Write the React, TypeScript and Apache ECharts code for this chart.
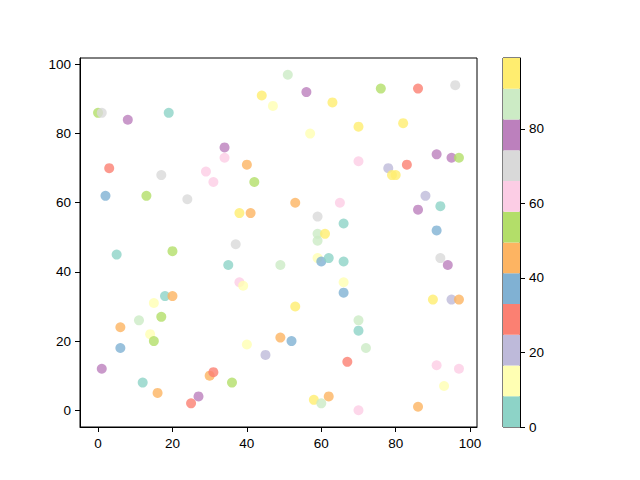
import { useEffect, useRef } from "react";
import * as echarts from "echarts";

// point positions (x, y) and the value used for colour
const xs = [
  0, 1, 8, 19, 44, 47, 51, 56, 63, 76, 86, 96, 57, 70, 82, 3, 34, 34, 40, 29, 31, 17, 42, 70, 78, 79, 80, 83, 91, 95, 97,
  2, 13, 24, 38, 41, 5, 20, 37, 35, 49, 38, 39, 18, 20, 15,
  53, 65, 59, 66, 59, 61, 59, 59, 60, 62, 66, 66, 66, 53, 88, 86, 92, 91, 92, 94, 90, 95, 97,
  11, 17, 6, 14, 15, 6, 1, 12, 16, 25, 27, 30, 31, 36, 40, 45, 49,
  52, 70, 70, 72, 67, 58, 60, 62, 70, 86, 91, 97, 93
];
const ys = [
  86, 86, 84, 86, 91, 88, 97, 92, 89, 93, 93, 94, 80, 82, 83, 70, 76, 73, 71, 69, 66, 68, 66, 72, 70, 68, 68, 71, 74, 73, 73,
  62, 62, 61, 57, 57, 45, 46, 48, 42, 42, 37, 36, 33, 33, 31,
  60, 60, 56, 54, 51, 51, 49, 44, 43, 44, 43, 37, 34, 30, 62, 58, 59, 52, 44, 42, 32, 32, 32,
  26, 27, 24, 22, 20, 18, 12, 8, 5, 2, 4, 10, 11, 8, 19, 16, 21,
  20, 26, 23, 18, 14, 3, 2, 4, 0, 1, 13, 12, 7
];
const cs = [
  53, 70, 78, 4, 95, 12, 86, 79, 96, 55, 29, 71, 13, 93, 97, 30, 80, 61, 44, 63, 60, 72, 52, 64, 21, 94, 98, 27, 77, 81, 54,
  38, 51, 69, 92, 46, 3, 54, 73, 6, 88, 64, 14, 2, 43, 11,
  47, 60, 72, 5, 85, 91, 87, 10, 36, 1, 7, 15, 39, 96, 19, 79, 2, 35, 68, 76, 93, 22, 42,
  84, 56, 45, 9, 52, 34, 80, 0, 44, 27, 77, 48, 31, 55, 16, 23, 44,
  37, 89, 5, 84, 28, 99, 86, 46, 63, 43, 65, 59, 13
];

const axisTicks = [0, 20, 40, 60, 80, 100];
const cbarTicks = [0, 20, 40, 60, 80];
const cMin = 0;
const cMax = 99;

// matplotlib Set3
const palette = [
  "#8dd3c7", "#ffffb3", "#bebada", "#fb8072", "#80b1d3", "#fdb462",
  "#b3de69", "#fccde5", "#d9d9d9", "#bc80bd", "#ccebc5", "#ffed6f"
];

const FONT = "Liberation Sans";
const pad = (lo: number, hi: number) => (hi - lo) * 0.05;

export default function App() {
  const hostRef = useRef<HTMLDivElement>(null);

  useEffect(() => {
    const host = hostRef.current;
    if (host === null) return;
    const chart = echarts.init(host, undefined, { renderer: "svg" });

    const xMin = Math.min(...xs), xMax = Math.max(...xs);
    const yMin = Math.min(...ys), yMax = Math.max(...ys);
    const step = (cMax - cMin) / palette.length;

    const valueAxis = (gridIndex: number, min: number, max: number, ticks: number[]) => ({
      type: "value" as const,
      gridIndex,
      min,
      max,
      axisLine: { show: true, onZero: false, lineStyle: { color: "#000", width: 1 } },
      axisTick: { show: true, inside: false, length: 5, customValues: ticks, lineStyle: { color: "#000" } },
      axisLabel: { color: "#000", fontSize: 13.5, fontFamily: FONT, margin: 9, customValues: ticks },
      splitLine: { show: false }
    });

    chart.setOption({
      animation: false,
      backgroundColor: "#fff",
      grid: [
        { left: 80, top: 58, width: 397, height: 369, show: true, borderColor: "#000", borderWidth: 1, backgroundColor: "transparent" },
        { left: 503, top: 58, width: 17, height: 369, show: true, borderColor: "#000", borderWidth: 1, backgroundColor: "transparent" }
      ],
      xAxis: [
        valueAxis(0, xMin - pad(xMin, xMax), xMax + pad(xMin, xMax), axisTicks),
        { type: "category", gridIndex: 1, data: [""], show: false }
      ],
      yAxis: [
        valueAxis(0, yMin - pad(yMin, yMax), yMax + pad(yMin, yMax), axisTicks),
        { ...valueAxis(1, cMin, cMax, cbarTicks), position: "right" }
      ],
      visualMap: {
        type: "piecewise",
        show: false,
        seriesIndex: 0,
        dimension: 2,
        pieces: palette.map((color, i) =>
          i === palette.length - 1
            ? { gte: cMin + i * step, lte: cMax, color }
            : { gte: cMin + i * step, lt: cMin + (i + 1) * step, color }
        )
      },
      series: [
        {
          type: "scatter",
          xAxisIndex: 0,
          yAxisIndex: 0,
          symbolSize: 10,
          silent: true,
          data: xs.map((x, i) => [x, ys[i], cs[i]])
        },
        ...palette.map((color) => ({
          type: "bar",
          stack: "cbar",
          xAxisIndex: 1,
          yAxisIndex: 1,
          barWidth: "100%",
          silent: true,
          itemStyle: { color },
          data: [step]
        }))
      ]
    });

    return () => chart.dispose();
  }, []);

  return (
    <div
      ref={hostRef}
      style={{ position: "fixed", left: 0, top: 0, width: 640, height: 480 }}
    />
  );
}
